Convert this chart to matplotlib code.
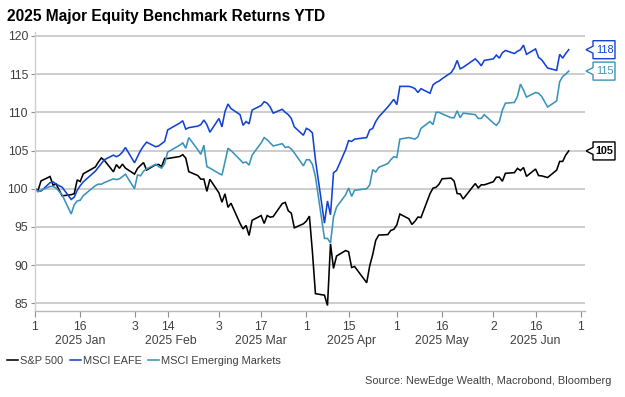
import matplotlib
matplotlib.use('Agg')
import matplotlib.pyplot as plt
import matplotlib.dates as mdates
from matplotlib.patches import Polygon
from matplotlib.transforms import IdentityTransform
import pandas as pd

plt.rcParams['font.family'] = ['Liberation Sans', 'DejaVu Sans']

# ---- data ----
holidays = ['2025-01-09', '2025-01-20', '2025-02-17', '2025-04-18', '2025-05-26', '2025-06-19']
dates = pd.bdate_range('2025-01-01', '2025-06-27').drop(pd.to_datetime(holidays))

sp500 = [
    # Jan
    100.0, 99.78, 101.03, 101.60, 100.47, 100.62, 99.07, 99.23, 99.34, 101.16, 100.95,
    101.96, 102.85, 103.48, 104.03, 103.73, 102.22, 103.16, 102.68, 103.22, 102.70,
    # Feb
    101.92, 102.66, 103.06, 103.43, 102.45, 103.14, 103.18, 102.90, 103.97, 103.96,
    104.22, 104.46, 104.01, 102.24, 101.73, 101.25, 101.27, 99.66, 101.24,
    # Mar
    99.46, 98.24, 99.34, 97.57, 98.11, 95.46, 94.74, 95.20, 93.88, 95.87, 96.49,
    95.46, 96.49, 96.28, 96.36, 98.06, 98.21, 97.12, 96.80, 94.89, 95.41,
    # Apr
    95.77, 96.42, 91.75, 86.27, 86.07, 84.72, 92.78, 89.57, 91.19, 91.91, 91.75,
    89.70, 89.82, 87.70, 89.90, 91.40, 93.25, 93.94, 94.00, 94.55, 94.69,
    # May
    95.28, 96.69, 96.07, 95.33, 95.74, 96.30, 96.23, 99.36, 100.08, 100.19, 100.60,
    101.31, 101.39, 101.00, 99.37, 99.33, 98.66, 100.68, 100.12, 100.52, 100.51,
    # Jun
    100.92, 101.51, 101.52, 100.98, 102.02, 102.11, 102.67, 102.39, 102.78, 101.62,
    102.58, 101.72, 101.69, 101.47, 102.44, 103.58, 103.58, 104.41, 104.95,
]

eafe = [
    # Jan
    100.0, 99.7, 99.7, 100.8, 100.9, 100.6, 100.2, 98.6, 98.9, 99.8, 100.4,
    100.9, 102.3, 102.8, 103.3, 103.8, 104.4, 104.2, 104.4, 104.8, 105.4,
    # Feb
    103.4, 104.2, 105.0, 105.6, 106.1, 105.5, 105.6, 105.9, 106.2, 107.7,
    108.6, 108.9, 107.8, 108.0, 108.2, 108.4, 109.0, 108.4, 107.4,
    # Mar
    109.2, 108.1, 110.1, 111.1, 110.5, 109.7, 108.3, 108.8, 108.5, 110.3, 110.9,
    111.4, 111.2, 110.7, 109.9, 110.4, 110.0, 109.7, 109.2, 108.1, 107.0,
    # Apr
    107.9, 107.7, 107.3, 103.8, 95.5, 98.4, 96.6, 102.1, 102.4, 105.1, 106.3,
    106.2, 106.5, 106.7, 107.7, 107.9, 108.8, 109.4, 110.7, 111.2, 111.7,
    # May
    111.0, 113.4, 113.4, 113.3, 113.1, 112.6, 113.1, 112.5, 113.6, 113.9, 114.1,
    114.4, 115.2, 115.8, 116.8, 115.7, 115.9, 117.0, 116.6, 116.1, 116.8,
    # Jun
    117.0, 117.5, 117.1, 117.8, 118.1, 117.7, 118.0, 118.2, 118.8, 117.6,
    118.3, 117.2, 116.9, 115.8, 115.5, 117.6, 117.1, 117.7, 118.2,
]

em = [
    # Jan
    100.0, 99.6, 99.8, 100.3, 100.3, 100.1, 99.2, 96.7, 97.9, 98.4, 98.5,
    99.1, 100.4, 100.6, 100.6, 100.8, 101.3, 101.2, 101.3, 101.6, 101.9,
    # Feb
    100.0, 101.8, 101.7, 102.3, 102.6, 103.2, 102.9, 102.7, 103.3, 104.8,
    105.7, 106.0, 105.3, 106.7, 105.1, 104.5, 105.7, 102.9, 102.7,
    # Mar
    102.0, 101.8, 103.5, 105.3, 105.0, 103.8, 103.4, 103.5, 103.1, 104.4, 106.0,
    106.7, 106.4, 106.0, 105.6, 105.9, 105.4, 105.5, 105.2, 104.7, 103.0,
    # Apr
    103.8, 103.8, 103.2, 101.6, 93.5, 93.5, 92.9, 96.3, 97.6, 99.2, 100.1,
    99.0, 99.8, 100.0, 100.5, 102.5, 102.2, 102.8, 103.3, 103.8, 104.2,
    # May
    104.1, 106.5, 106.7, 106.6, 106.5, 106.8, 107.9, 108.8, 108.4, 110.0, 110.0,
    109.8, 109.3, 109.3, 110.2, 109.3, 109.9, 109.7, 109.2, 109.2, 109.7,
    # Jun
    108.6, 108.3, 108.8, 110.3, 111.2, 111.3, 112.1, 113.7, 112.9, 112.0,
    112.6, 112.5, 112.1, 110.7, 111.5, 114.0, 114.7, 115.0, 115.4,
]

series_names = ['S&P 500', 'MSCI EAFE', 'MSCI Emerging Markets']
series_colors = ['#000000', '#1443d4', '#3a93bb']

tick_dates = ['2025-01-01', '2025-01-16', '2025-02-03', '2025-02-14', '2025-03-03',
              '2025-03-17', '2025-04-01', '2025-04-15', '2025-05-01', '2025-05-16',
              '2025-06-02', '2025-06-16', '2025-07-01']
tick_labels = ['1', '16', '3', '14', '3', '17', '1', '15', '1', '16', '2', '16', '1']
month_labels = ['2025 Jan', '2025 Feb', '2025 Mar', '2025 Apr', '2025 May', '2025 Jun']
month_centers = ['2025-01-16', '2025-02-15', '2025-03-17', '2025-04-16', '2025-05-16', '2025-06-16']
y_ticks = [85, 90, 95, 100, 105, 110, 115, 120]

title = '2025 Major Equity Benchmark Returns YTD'
source = 'Source: NewEdge Wealth, Macrobond, Bloomberg'

# ---- figure ----
W, H = 625, 397
fig = plt.figure(figsize=(W / 100, H / 100), dpi=100)
ax_left, ax_right, ax_top, ax_bot = 35, 585, 32, 311
ax = fig.add_axes([ax_left / W, 1 - ax_bot / H, (ax_right - ax_left) / W, (ax_bot - ax_top) / H])

all_series = [sp500, eafe, em]
lines = []
for vals, name, col in zip(all_series, series_names, series_colors):
    ln, = ax.plot(dates, vals, color=col, lw=1.15, label=name, solid_joinstyle='miter')
    lines.append(ln)

x0 = pd.Timestamp('2025-01-01')
ax.set_xlim(x0, x0 + pd.Timedelta(days=182.4))
ax.set_ylim(84.0, 84.0 + (ax_bot - ax_top) / 7.64)

ax.set_yticks(y_ticks)
ax.yaxis.grid(True, color='#c0c0c0', lw=1.1)
ax.set_axisbelow(True)
for s in ['top', 'right']:
    ax.spines[s].set_visible(False)
ax.spines['left'].set_color('#cfcfcf')
ax.spines['bottom'].set_color('#b8b8b8')
ax.spines['left'].set_linewidth(1.0)
ax.spines['bottom'].set_linewidth(1.0)

ax.tick_params(axis='y', length=3, color='#909090', labelsize=8.8, labelcolor='#404040', pad=2)
ax.set_xticks(pd.to_datetime(tick_dates))
ax.set_xticklabels(tick_labels)
ax.tick_params(axis='x', length=4, color='#909090', labelsize=8.8, labelcolor='#404040', pad=3)

for lab, c in zip(month_labels, month_centers):
    ax.text(pd.Timestamp(c), -0.1075, lab, transform=ax.get_xaxis_transform(),
            ha='center', va='center', fontsize=8.8, color='#404040')

fig.text(7 / W, 1 - 16 / H, title, fontsize=11.2, fontweight='bold', va='center', ha='left')

fig.legend(handles=lines, labels=series_names, loc='center left',
           bbox_to_anchor=(0.0, 1 - 361 / H), ncol=3, frameon=False, fontsize=7.9,
           handlelength=1.0, handletextpad=0.2, columnspacing=0.6, borderaxespad=0.2,
           labelcolor='#404040')

fig.text(611 / W, 1 - 381 / H, source, ha='right', va='center', fontsize=7.9, color='#404040')

# ---- end-value callouts ----
ident = IdentityTransform()
last_x = mdates.date2num(dates[-1])
for vals, col, bold in zip(all_series, series_colors, [True, False, False]):
    v = vals[-1]
    _, yd = ax.transData.transform((last_x, v))
    tip, bl, br, hh, ph = 586, 593, 615, 9, 3.5
    poly = Polygon([(tip, yd), (bl, yd + ph), (bl, yd + hh), (br, yd + hh),
                    (br, yd - hh), (bl, yd - hh), (bl, yd - ph)], closed=True,
                   facecolor='white', edgecolor=col, lw=1.0, transform=ident)
    fig.add_artist(poly)
    fig.text((bl + br) / 2 + 0.5, yd, f'{v:.0f}', transform=ident, ha='center', va='center',
             fontsize=7.8, color=col, fontweight='bold' if bold else 'normal')

fig.savefig('out.png', dpi=100)
